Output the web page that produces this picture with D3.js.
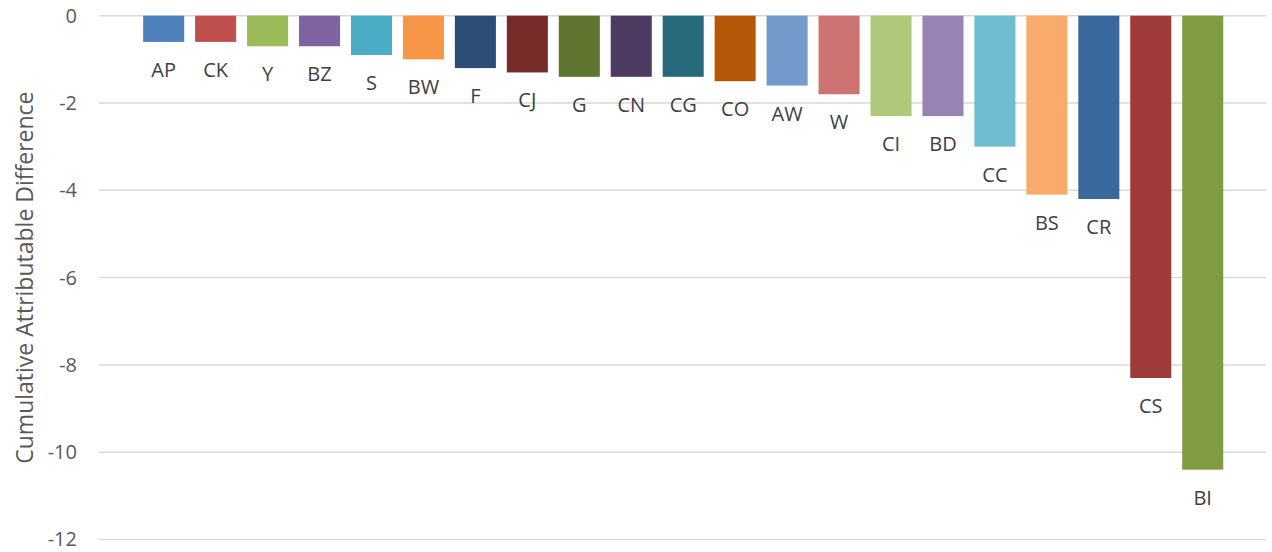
<!DOCTYPE html>
<html>
<head>
<meta charset="utf-8">
<script src="https://cdn.jsdelivr.net/npm/d3@7"></script>
<style>
  html, body { margin: 0; padding: 0; background: #fff; }
  #viz { width: 1272px; height: 552px; }
</style>
</head>
<body>
<div id="viz"></div>
<script>
// data
const categories = ['AP', 'CK', 'Y', 'BZ', 'S', 'BW', 'F', 'CJ', 'G', 'CN', 'CG', 'CO', 'AW', 'W', 'CI', 'BD', 'CC', 'BS', 'CR', 'CS', 'BI'];
const values = [-0.6, -0.6, -0.7, -0.7, -0.9, -1.0, -1.2, -1.3, -1.4, -1.4, -1.4, -1.5, -1.6, -1.8, -2.3, -2.3, -3.0, -4.1, -4.2, -8.3, -10.4];
const barColors = ['#4f81bd', '#c0504d', '#9bbb59', '#8064a2', '#4bacc6', '#f79646', '#2c4d75', '#772c2a', '#5f7530', '#4d3b62', '#276a7c', '#b65708', '#729aca', '#cd7371', '#afc97a', '#9983b5', '#6fbdd1', '#f9ab6b', '#3a679c', '#9e3a38', '#7f9c41'];
const yTicks = [0, -2, -4, -6, -8, -10, -12];
const yTitle = 'Cumulative Attributable Difference';

const w = 1272;
const h = 552;

const svg = d3.select('#viz').
  append('svg').
  attr('width', w).
  attr('height', h).
  style('font-family', "'Open Sans', sans-serif");

const yScale = d3.scaleLinear().
  domain([-12, 0]).
  range([539.5, 15.7]);

const xScale = d3.scaleBand().
  domain(categories).
  range([137.7, 1228.7]).
  paddingInner(0.21).
  paddingOuter(0.105);

// gridlines
svg.append('g').
  selectAll('line').
  data(yTicks).
  enter().
  append('line').
  attr('x1', 99).
  attr('x2', 1266).
  attr('y1', d => yScale(d)).
  attr('y2', d => yScale(d)).
  attr('stroke', '#d9d9d9').
  attr('stroke-width', 1.5);

// y axis labels, no domain line
const yAxis = d3.axisLeft(yScale).
  tickValues(yTicks).
  tickSize(0).
  tickPadding(0).
  tickFormat(d3.format('d'));

const yg = svg.append('g').
  attr('transform', 'translate(77,0)').
  call(yAxis);
yg.select('.domain').remove();
yg.selectAll('text').
  style('font-size', '20px').
  style('fill', '#595959').
  style('font-family', "'Open Sans', sans-serif").
  text(d => d === 0 ? '0' : '-' + Math.abs(d));

// bars
svg.selectAll('rect.bar').
  data(values).
  enter().
  append('rect').
  attr('class', 'bar').
  attr('x', (d, i) => xScale(categories[i])).
  attr('width', xScale.bandwidth()).
  attr('y', yScale(0)).
  attr('height', d => yScale(d) - yScale(0)).
  attr('fill', (d, i) => barColors[i]);

// category labels below each bar end
svg.selectAll('text.lbl').
  data(values).
  enter().
  append('text').
  attr('class', 'lbl').
  attr('x', (d, i) => xScale(categories[i]) + xScale.bandwidth() / 2).
  attr('y', d => yScale(d) + 35).
  attr('text-anchor', 'middle').
  style('font-size', '20px').
  style('fill', '#404040').
  text((d, i) => categories[i]);

// axis title
svg.append('text').
  attr('transform', 'translate(33,' + (yScale(-6)) + ') rotate(-90)').
  attr('text-anchor', 'middle').
  style('font-size', '23px').
  style('fill', '#595959').
  text(yTitle);
</script>
</body>
</html>
